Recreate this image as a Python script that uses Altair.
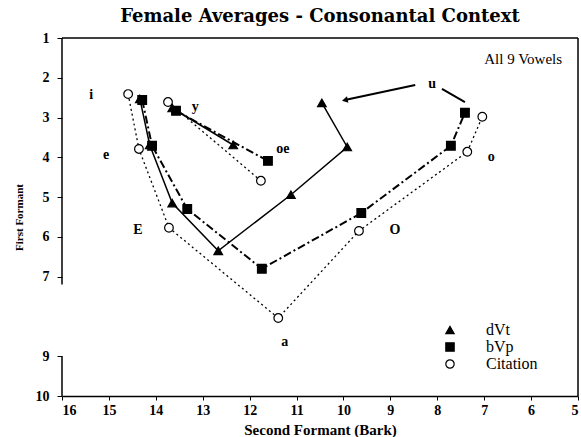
import altair as alt
import pandas as pd

# ---- data ----
vowels = ["i", "e", "E", "a", "O", "o", "u", "y", "oe"]
path_group = ["main", "main", "main", "main", "main", "main", "main", "round", "round"]
path_order = [0, 1, 2, 3, 4, 5, 6, 0, 1]

dvt_f2 = [14.34, 14.13, 13.65, 12.67, 11.12, 9.92, 10.46, 13.65, 12.35]
dvt_f1 = [2.53, 3.69, 5.15, 6.35, 4.94, 3.74, 2.63, 2.76, 3.69]
bvp_f2 = [14.29, 14.08, 13.33, 11.74, 9.62, 7.71, 7.41, 13.57, 11.61]
bvp_f1 = [2.56, 3.71, 5.30, 6.80, 5.40, 3.71, 2.88, 2.83, 4.09]
cit_f2 = [14.59, 14.36, 13.72, 11.39, 9.67, 7.36, 7.04, 13.74, 11.76]
cit_f1 = [2.41, 3.79, 5.77, 8.04, 5.85, 3.86, 2.98, 2.61, 4.59]

label_f2 = [15.38, 15.06, 14.38, 11.25, 8.90, 6.85, 8.11, 13.16, 11.29]
label_f1 = [2.43, 3.94, 5.82, 8.64, 5.82, 3.99, 2.16, 2.73, 3.79]

series_names = ["dVt", "bVp", "Citation"]
x_ticks = [16, 15, 14, 13, 12, 11, 10, 9, 8, 7, 6, 5]
y_ticks = [1, 2, 3, 4, 5, 6, 7, 9, 10]

note_text = "All 9 Vowels"
note_f2 = 5.34
note_f1 = 1.53

arrow_seg = ["a", "a", "b", "b"]
arrow_f2 = [9.97, 8.47, 7.90, 7.41]
arrow_f1 = [2.56, 2.18, 2.28, 2.61]

# ---- tables ----
rows = []
for name, f2s, f1s in [("dVt", dvt_f2, dvt_f1), ("bVp", bvp_f2, bvp_f1), ("Citation", cit_f2, cit_f1)]:
    for v, g, o, a, b in zip(vowels, path_group, path_order, f2s, f1s):
        rows.append({"series": name, "vowel": v, "group": g, "order": o, "f2": a, "f1": b})
df = pd.DataFrame(rows)
df_labels = pd.DataFrame({"vowel": vowels, "f2": label_f2, "f1": label_f1})
df_note = pd.DataFrame({"t": [note_text], "f2": [note_f2], "f1": [note_f1]})
df_arrow = pd.DataFrame({"seg": arrow_seg, "f2": arrow_f2, "f1": arrow_f1})
df_head = pd.DataFrame({"f2": [arrow_f2[0]], "f1": [arrow_f1[0]]})
df_frame = pd.DataFrame({
    "x": [16, 5, 16, 16],
    "x2": [5, 5, 16, 16],
    "y": [1, 1, 1, 9],
    "y2": [1, 10, 7.2, 10],
})

xs = alt.Scale(domain=[5, 16], reverse=True, nice=False, zero=False)
ys = alt.Scale(domain=[1, 10], reverse=True, nice=False, zero=False)

X = alt.X("f2:Q", scale=xs, axis=alt.Axis(
    values=x_ticks, title="Second Formant (Bark)", format="d",
    tickSize=4, labelPadding=3, titlePadding=5,
    titleFont="Liberation Serif", titleFontSize=15, titleFontWeight="bold",
    labelFont="Liberation Serif", labelFontSize=14, labelFontWeight="bold",
    domainColor="black", domainWidth=1.5, tickColor="black", labelColor="black", titleColor="black"))
Y = alt.Y("f1:Q", scale=ys, axis=alt.Axis(
    values=y_ticks, title="First Formant", format="d", domain=False,
    tickSize=5, labelPadding=8, titlePadding=11,
    titleFont="Liberation Serif", titleFontSize=11, titleFontWeight="bold",
    labelFont="Liberation Serif", labelFontSize=14, labelFontWeight="bold",
    tickColor="black", labelColor="black", titleColor="black"))

base = alt.Chart(df)

line_styles = {
    "dVt": dict(strokeWidth=1.5),
    "bVp": dict(strokeWidth=2, strokeDash=[8, 3, 2, 3]),
    "Citation": dict(strokeWidth=1.3, strokeDash=[2, 3]),
}
line_layers = [
    base.transform_filter(alt.datum.series == s)
    .mark_line(color="black", **line_styles[s])
    .encode(x=X, y=Y, detail="group:N", order="order:Q")
    for s in series_names
]

leg = alt.Legend(orient="none", legendX=380, legendY=284, title=None,
                 labelFont="Liberation Serif", labelFontSize=16, labelColor="black",
                 symbolStrokeColor="black", symbolSize=70, symbolStrokeWidth=1.2,
                 labelOffset=28, rowPadding=1)

points = base.mark_point(filled=True, strokeWidth=1.2, opacity=1, size=75).encode(
    x=X, y=Y,
    shape=alt.Shape("series:N", scale=alt.Scale(domain=series_names, range=["triangle-up", "square", "circle"]), legend=leg),
    fill=alt.Fill("series:N", scale=alt.Scale(domain=series_names, range=["black", "black", "white"]), legend=leg),
    stroke=alt.Stroke("series:N", scale=alt.Scale(domain=series_names, range=["black", "black", "black"]), legend=leg),
)

labels = alt.Chart(df_labels).mark_text(font="Liberation Serif", fontSize=14, fontWeight="bold", color="black").encode(
    x=X, y=Y, text="vowel:N")

note = alt.Chart(df_note).mark_text(font="Liberation Serif", fontSize=15, align="right", color="black").encode(
    x=X, y=Y, text="t:N")

arrows = alt.Chart(df_arrow).mark_line(color="black", strokeWidth=2).encode(x=X, y=Y, detail="seg:N")
head = alt.Chart(df_head).mark_point(shape="triangle-left", filled=True, color="black", size=45, angle=348, opacity=1).encode(x=X, y=Y)

frame = alt.Chart(df_frame).mark_rule(color="black", strokeWidth=1.5).encode(
    x=alt.X("x:Q", scale=xs), x2="x2:Q", y=alt.Y("y:Q", scale=ys), y2="y2:Q")

chart = alt.layer(frame, *line_layers, arrows, head, points, labels, note).properties(
    width=516, height=358,
    autosize=alt.AutoSizeParams(type="none"),
    padding={"left": 62, "top": 38, "right": 3, "bottom": 41},
    title=alt.TitleParams(text="Female Averages - Consonantal Context", font="DejaVu Serif",
                          fontSize=18, fontWeight="bold", anchor="middle", offset=5, color="black"),
    background="white",
).configure_view(stroke=None).configure_axis(grid=False)

chart.save("out.html", embed_options={"renderer": "svg", "actions": False})
